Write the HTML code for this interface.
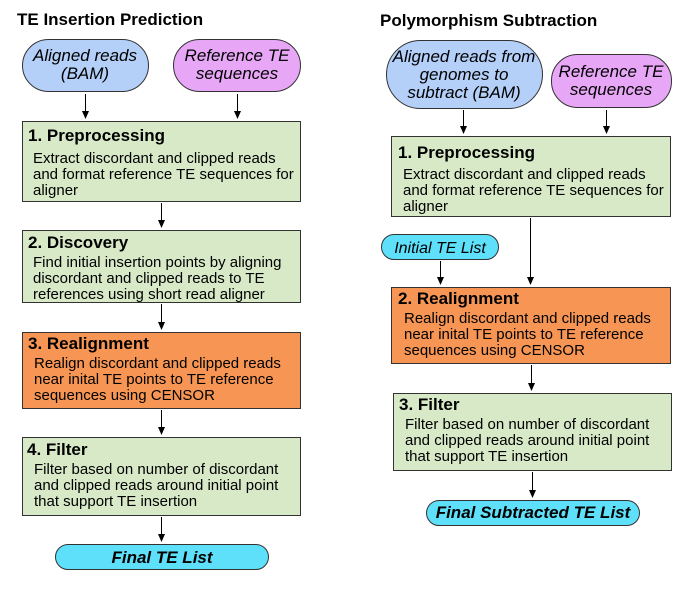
<!DOCTYPE html>
<html><head><meta charset="utf-8"><style>body{margin:0;background:#fff}svg{display:block}text{font-family:"Liberation Sans",Arial,sans-serif;fill:#000}.t{font-weight:bold;font-size:17px}.b{font-size:15px}.p{font-style:italic;font-size:17px}.f{font-style:italic;font-weight:bold;font-size:17px}.h{font-weight:bold;font-size:17px}</style></head><body>
<svg width="690" height="589" viewBox="0 0 690 589">
<g stroke="#333" stroke-width="1">
<rect x="22.5" y="39.5" width="126" height="52" rx="26" fill="#b4d0f8"/>
<rect x="173.5" y="39.5" width="127" height="52" rx="26" fill="#e7a7f6"/>
<rect x="22.5" y="121.5" width="278" height="80" fill="#d8e9c8"/>
<rect x="22.5" y="230.5" width="278" height="72" fill="#d8e9c8"/>
<rect x="22.5" y="332.5" width="278" height="76" fill="#f79654"/>
<rect x="22.5" y="437.5" width="278" height="78" fill="#d8e9c8"/>
<rect x="55.5" y="544.5" width="213" height="25" rx="12.5" fill="#5ee0fa"/>
<rect x="386.5" y="40.5" width="156" height="68" rx="34" fill="#b4d0f8"/>
<rect x="551.5" y="54.5" width="120" height="53" rx="26" fill="#e7a7f6"/>
<rect x="391.5" y="136.5" width="279" height="80" fill="#d8e9c8"/>
<rect x="381.5" y="234.5" width="117" height="25" rx="12.5" fill="#5ee0fa"/>
<rect x="391.5" y="287.5" width="279" height="76" fill="#f79654"/>
<rect x="393.5" y="393.5" width="278" height="77" fill="#d8e9c8"/>
<rect x="426.5" y="500.5" width="213" height="25" rx="12.5" fill="#5ee0fa"/>
</g>
<g stroke="#000" stroke-width="1">
<line x1="85.5" y1="94" x2="85.5" y2="112"/>
<line x1="237.5" y1="94" x2="237.5" y2="112"/>
<line x1="161.5" y1="203" x2="161.5" y2="221"/>
<line x1="161.5" y1="304" x2="161.5" y2="323"/>
<line x1="161.5" y1="410" x2="161.5" y2="428"/>
<line x1="161.5" y1="517" x2="161.5" y2="535"/>
<line x1="463.5" y1="110" x2="463.5" y2="127"/>
<line x1="606.5" y1="110" x2="606.5" y2="127"/>
<line x1="440.5" y1="261" x2="440.5" y2="278"/>
<line x1="530.5" y1="218" x2="530.5" y2="278"/>
<line x1="531.5" y1="365" x2="531.5" y2="384"/>
<line x1="532.5" y1="472" x2="532.5" y2="491"/>
</g>
<g fill="#000">
<path d="M82,111 L89,111 L85.5,119 Z"/>
<path d="M234,111 L241,111 L237.5,119 Z"/>
<path d="M158,220 L165,220 L161.5,228 Z"/>
<path d="M158,322 L165,322 L161.5,330 Z"/>
<path d="M158,427 L165,427 L161.5,435 Z"/>
<path d="M158,534 L165,534 L161.5,542 Z"/>
<path d="M460,126 L467,126 L463.5,134 Z"/>
<path d="M603,126 L610,126 L606.5,134 Z"/>
<path d="M437,277 L444,277 L440.5,285 Z"/>
<path d="M527,277 L534,277 L530.5,285 Z"/>
<path d="M528,383 L535,383 L531.5,391 Z"/>
<path d="M529,490 L536,490 L532.5,498 Z"/>
</g>
<text class="h" x="17" y="25">TE Insertion Prediction</text>
<text class="h" x="380" y="26">Polymorphism Subtraction</text>
<g text-anchor="middle">
<text class="p" x="85" y="61">Aligned reads</text><text class="p" x="85" y="79">(BAM)</text>
<text class="p" x="237" y="61">Reference TE</text><text class="p" x="237" y="79">sequences</text>
<text class="f" x="162" y="563">Final TE List</text>
<text class="p" x="464" y="62">Aligned reads from</text><text class="p" x="464" y="80">genomes to</text><text class="p" x="464" y="98">subtract (BAM)</text>
<text class="p" x="611" y="77">Reference TE</text><text class="p" x="611" y="95">sequences</text>
<text class="p" x="440" y="253" style="font-size:16px">Initial TE List</text>
<text class="f" x="533" y="518">Final Subtracted TE List</text>
</g>
<text class="t" x="28" y="141">1. Preprocessing</text>
<text class="b" x="33" y="163">Extract discordant and clipped reads</text>
<text class="b" x="33" y="179">and format reference TE sequences for</text>
<text class="b" x="33" y="195">aligner</text>
<text class="t" x="28" y="248">2. Discovery</text>
<text class="b" x="33" y="267">Find initial insertion points by aligning</text>
<text class="b" x="33" y="283">discordant and clipped reads to TE</text>
<text class="b" x="33" y="299">references using short read aligner</text>
<text class="t" x="28" y="349">3. Realignment</text>
<text class="b" x="34" y="368">Realign discordant and clipped reads</text>
<text class="b" x="34" y="384">near inital TE points to TE reference</text>
<text class="b" x="34" y="400">sequences using CENSOR</text>
<text class="t" x="27" y="455">4. Filter</text>
<text class="b" x="34" y="474">Filter based on number of discordant</text>
<text class="b" x="34" y="490">and clipped reads around initial point</text>
<text class="b" x="34" y="506">that support TE insertion</text>
<text class="t" x="398" y="158">1. Preprocessing</text>
<text class="b" x="403" y="179">Extract discordant and clipped reads</text>
<text class="b" x="403" y="195">and format reference TE sequences for</text>
<text class="b" x="403" y="211">aligner</text>
<text class="t" x="398" y="304">2. Realignment</text>
<text class="b" x="404" y="323">Realign discordant and clipped reads</text>
<text class="b" x="404" y="339">near inital TE points to TE reference</text>
<text class="b" x="404" y="355">sequences using CENSOR</text>
<text class="t" x="399" y="410">3. Filter</text>
<text class="b" x="405" y="429">Filter based on number of discordant</text>
<text class="b" x="405" y="445">and clipped reads around initial point</text>
<text class="b" x="405" y="461">that support TE insertion</text>
</svg>
</body></html>
